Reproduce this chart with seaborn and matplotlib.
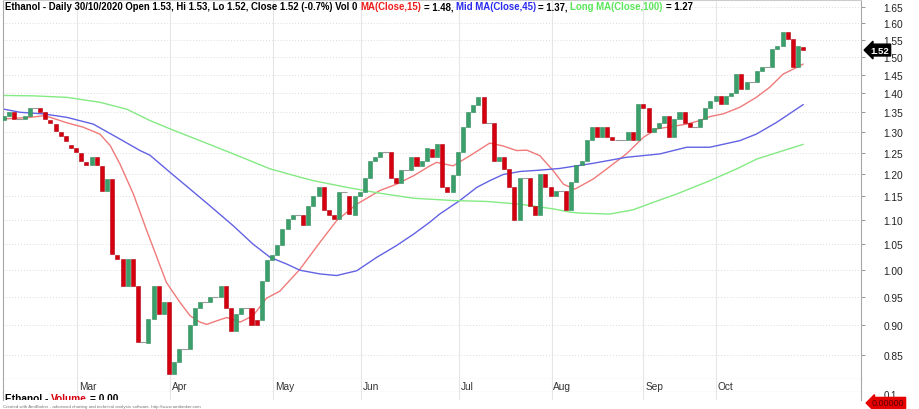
import matplotlib
matplotlib.use('Agg')
import matplotlib.pyplot as plt
import matplotlib.transforms as mtransforms
from matplotlib.ticker import NullLocator
import numpy as np
import pandas as pd
import seaborn as sns

# velas diarias (abertura / fechamento)
opens = [1.330, 1.340, 1.350, 1.333, 1.332, 1.341, 1.361, 1.361, 1.350, 1.330,
         1.320, 1.299, 1.290, 1.269, 1.260, 1.250, 1.229, 1.221, 1.240, 1.219,
         1.161, 1.189, 1.029, 1.020, 0.970, 1.020, 0.969, 0.871, 0.869, 0.910,
         0.970, 0.919, 0.941, 0.820, 0.839, 0.860, 0.860, 0.900, 0.929, 0.940,
         0.941, 0.950, 0.950, 0.970, 0.929, 0.890, 0.919, 0.929, 0.929, 0.909,
         0.909, 0.979, 1.019, 1.028, 1.048, 1.081, 1.101, 1.110, 1.110, 1.090,
         1.130, 1.150, 1.170, 1.121, 1.111, 1.101, 1.160, 1.150, 1.110, 1.150,
         1.160, 1.190, 1.230, 1.239, 1.251, 1.251, 1.190, 1.180, 1.210, 1.210,
         1.240, 1.219, 1.230, 1.259, 1.240, 1.271, 1.170, 1.160, 1.199, 1.251,
         1.312, 1.350, 1.370, 1.391, 1.322, 1.322, 1.231, 1.240, 1.212, 1.171,
         1.099, 1.190, 1.190, 1.130, 1.111, 1.200, 1.171, 1.151, 1.161, 1.161,
         1.120, 1.181, 1.221, 1.230, 1.280, 1.312, 1.288, 1.312, 1.288, 1.280,
         1.280, 1.280, 1.300, 1.280, 1.371, 1.361, 1.300, 1.310, 1.322, 1.341,
         1.288, 1.333, 1.351, 1.322, 1.312, 1.312, 1.333, 1.361, 1.380, 1.392,
         1.371, 1.392, 1.400, 1.452, 1.411, 1.431, 1.431, 1.461, 1.471, 1.471,
         1.523, 1.533, 1.572, 1.552, 1.471, 1.530]
closes = [1.341, 1.352, 1.332, 1.333, 1.340, 1.361, 1.361, 1.352, 1.332, 1.322,
          1.302, 1.290, 1.279, 1.261, 1.252, 1.231, 1.221, 1.240, 1.221, 1.161,
          1.189, 1.030, 1.021, 0.970, 1.020, 0.970, 0.871, 0.871, 0.910, 0.970,
          0.919, 0.941, 0.820, 0.839, 0.860, 0.860, 0.900, 0.929, 0.940, 0.940,
          0.949, 0.950, 0.970, 0.929, 0.890, 0.919, 0.929, 0.929, 0.900, 0.900,
          0.979, 1.019, 1.028, 1.048, 1.081, 1.101, 1.110, 1.110, 1.090, 1.130,
          1.150, 1.170, 1.121, 1.111, 1.101, 1.160, 1.160, 1.112, 1.150, 1.160,
          1.190, 1.230, 1.239, 1.251, 1.251, 1.190, 1.180, 1.210, 1.210, 1.240,
          1.219, 1.230, 1.260, 1.240, 1.271, 1.170, 1.160, 1.199, 1.251, 1.312,
          1.350, 1.370, 1.391, 1.322, 1.322, 1.231, 1.240, 1.212, 1.171, 1.099,
          1.190, 1.190, 1.130, 1.111, 1.200, 1.171, 1.151, 1.161, 1.161, 1.120,
          1.181, 1.221, 1.230, 1.280, 1.312, 1.288, 1.312, 1.288, 1.280, 1.280,
          1.280, 1.300, 1.280, 1.371, 1.361, 1.300, 1.310, 1.322, 1.341, 1.288,
          1.333, 1.351, 1.322, 1.312, 1.312, 1.333, 1.361, 1.380, 1.392, 1.371,
          1.392, 1.400, 1.452, 1.411, 1.431, 1.431, 1.461, 1.471, 1.471, 1.523,
          1.533, 1.572, 1.552, 1.471, 1.531, 1.520]

# medias moveis (posicao da vela, valor)
ma15_idx = [0, 5, 7.6, 9, 12, 15.4, 18.6, 20.6, 22.5, 25.1, 27.7, 31.5, 34.1, 36.1,
            38, 39.3, 41.2, 43.2, 45.8, 48.3, 50.9, 53.5, 57.4, 61.3, 64.5, 68.4,
            72.9, 76.1, 79.4, 82.6, 83.9, 87.1, 90.4, 94.2, 96.8, 99.4, 101.4,
            103.9, 106.5, 108.5, 110.7, 114.3, 116.9, 120.7, 124, 126.6, 129.1,
            132.4, 135, 136.9, 139.5, 142.7, 145.9, 148.5, 151.1, 153.1, 155]
ma15_val = [1.333, 1.337, 1.341, 1.337, 1.324, 1.312, 1.295, 1.267, 1.223, 1.155,
            1.077, 0.976, 0.940, 0.916, 0.905, 0.901, 0.907, 0.913, 0.905, 0.916,
            0.947, 0.960, 1.001, 1.054, 1.098, 1.133, 1.163, 1.177, 1.196, 1.219,
            1.227, 1.219, 1.243, 1.273, 1.266, 1.255, 1.256, 1.243, 1.208, 1.177,
            1.166, 1.189, 1.212, 1.247, 1.287, 1.308, 1.313, 1.320, 1.329, 1.339,
            1.346, 1.363, 1.389, 1.416, 1.452, 1.466, 1.48]
ma45_idx = [0, 3.1, 7.6, 12.2, 17.3, 21.9, 26.4, 28.3, 32.2, 36.1, 39.9, 44.5, 48.3,
            51.6, 54.8, 57.4, 61.3, 64.5, 68.4, 72.3, 76.1, 79.4, 82.6, 84.5, 88.4,
            91.7, 94.2, 96.8, 100.1, 103.9, 107.8, 114.3, 120.7, 127.2, 129.8,
            132.4, 136.9, 142.7, 145.9, 149.8, 155]
ma45_val = [1.358, 1.350, 1.346, 1.337, 1.320, 1.287, 1.255, 1.244, 1.204, 1.166,
            1.130, 1.087, 1.050, 1.024, 1.011, 0.999, 0.992, 0.989, 0.998, 1.024,
            1.047, 1.070, 1.095, 1.112, 1.141, 1.170, 1.185, 1.199, 1.206, 1.209,
            1.213, 1.225, 1.239, 1.247, 1.255, 1.263, 1.263, 1.279, 1.295, 1.324,
            1.37]
ma100_idx = [0, 5.6, 12.2, 18.6, 23.8, 28.3, 32.2, 38, 44.5, 51.6, 57.4, 60, 66.5,
             72.9, 79.4, 87.1, 93.6, 100.1, 106.5, 109.8, 111.7, 117.5, 122, 125.9,
             130.4, 136.9, 142.1, 146, 155]
ma100_val = [1.394, 1.393, 1.389, 1.376, 1.358, 1.329, 1.308, 1.279, 1.247, 1.212,
             1.193, 1.185, 1.170, 1.157, 1.146, 1.141, 1.139, 1.133, 1.123, 1.116,
             1.114, 1.112, 1.121, 1.137, 1.155, 1.185, 1.212, 1.235, 1.27]

months = ['Mar', 'Apr', 'May', 'Jun', 'Jul', 'Aug', 'Sep', 'Oct']
month_pos = [14.2, 32.2, 52.2, 69.2, 88.3, 106.2, 124.0, 138.1]
price_ticks = [0.85, 0.90, 0.95, 1.00, 1.05, 1.10, 1.15, 1.20, 1.25, 1.30,
               1.35, 1.40, 1.45, 1.50, 1.55, 1.60, 1.65]

verde = '#3b9f6b'
vermelho = '#d5000f'
cor_ma15 = '#f07a7a'
cor_ma45 = '#6262e4'
cor_ma100 = '#84ea84'

sns.set_theme(style='white')
plt.rcParams['font.family'] = ['Liberation Sans', 'DejaVu Sans']

W, H = 919, 410
fig = plt.figure(figsize=(W / 100, H / 100), dpi=100)


def caixa(x0, y0, x1, y1):
    return [x0 / W, 1 - y1 / H, (x1 - x0) / W, (y1 - y0) / H]


ax = fig.add_axes(caixa(3, 1, 861, 380))
ax_d = fig.add_axes(caixa(3, 380, 861, 393))
ax_v = fig.add_axes(caixa(3, 393, 861, 401))

df = pd.DataFrame({'open': opens, 'close': closes})
df['i'] = np.arange(len(df))
sobe = df[df.close > df.open]
desce = df[df.close < df.open]
doji = df[df.close == df.open]

ax.bar(sobe.i, sobe.close - sobe.open, bottom=sobe.open, width=0.78,
       color=verde, edgecolor='#2f8a5a', linewidth=0.4, zorder=3)
ax.bar(desce.i, desce.open - desce.close, bottom=desce.close, width=0.78,
       color=vermelho, edgecolor='#b0000c', linewidth=0.4, zorder=3)
ax.hlines(doji.close, doji.i - 0.6, doji.i + 0.6, color='#9a9a9a', lw=0.8, zorder=3)

sns.lineplot(x=ma15_idx, y=ma15_val, ax=ax, color=cor_ma15, lw=1.0, zorder=2)
sns.lineplot(x=ma45_idx, y=ma45_val, ax=ax, color=cor_ma45, lw=1.0, zorder=2)
sns.lineplot(x=ma100_idx, y=ma100_val, ax=ax, color=cor_ma100, lw=1.0, zorder=2)

ax.set_yscale('log')
ax.set_ylim(0.81197, 1.6722)
ax.set_xlim(-0.19, 166.2)
ax.yaxis.tick_right()
ax.set_yticks(price_ticks)
ax.set_yticklabels([f'{v:.2f}' for v in price_ticks])
ax.yaxis.set_minor_locator(NullLocator())
ax.set_xticks([])
ax.tick_params(axis='y', length=3, width=0.6, pad=13, labelsize=7.3,
               color='#888888', labelcolor='#222222', right=True)
ax.set_xlabel('')
ax.set_ylabel('')
ax.grid(axis='y', color='#dcdcdc', linestyle=(0, (1, 2)), lw=0.7)
for p in month_pos:
    for a in (ax, ax_d, ax_v):
        a.axvline(p, color='#e6e6e6', lw=0.8, zorder=0)

for a in (ax, ax_d, ax_v):
    for s in a.spines.values():
        s.set_color('#a8a8a8')
        s.set_linewidth(0.8)
    a.set_facecolor('white')
ax.spines['top'].set_color('#cccccc')

for a in (ax_d, ax_v):
    a.set_xlim(-0.19, 166.2)
    a.set_ylim(0, 1)
    a.set_xticks([])
    a.set_yticks([])
ax_d.spines['top'].set_visible(False)
ax_v.spines['top'].set_visible(False)
ax_v.spines['bottom'].set_visible(False)

for nome, p in zip(months, month_pos):
    ax_d.text(p + 0.35, 0.45, nome, ha='left', va='center', fontsize=7.3, color='#333333')

# marcador do ultimo preco
trans = mtransforms.blended_transform_factory(ax.transAxes, ax.transData)
ax.text(1.011, closes[-1], f'{closes[-1]:.2f}', transform=trans, ha='left', va='center',
        color='white', fontsize=6.8, fontweight='bold', clip_on=False,
        bbox=dict(boxstyle='larrow,pad=0.15', fc='black', ec='black'))

# titulo em varias cores
renderer = fig.canvas.get_renderer()
tam = 6.95


def largura(s):
    t = fig.text(0, 0, s, fontsize=tam, fontweight='bold')
    w = t.get_window_extent(renderer).width
    t.remove()
    return w


espaco = largura('x x') - largura('xx')
partes = [('Ethanol - Daily 30/10/2020 Open 1.53, Hi 1.53, Lo 1.52, Close 1.52 (-0.7%) Vol 0', 'black'),
          ('MA(Close,15)', '#f01c1c'), ('= 1.48,', 'black'),
          ('Mid MA(Close,45)', '#2a2af0'), ('= 1.37,', 'black'),
          ('Long MA(Close,100)', '#5ae65a'), ('= 1.27', 'black')]
x = 5
for s, c in partes:
    t = fig.text(x / W, 1 - 7 / H, s, color=c, fontsize=tam, fontweight='bold',
                 ha='left', va='center')
    x += t.get_window_extent(renderer).width + espaco

# painel de volume
x = 5
for s, c in [('Ethanol -', 'black'), ('Volume', vermelho), ('= 0.00', 'black')]:
    t = ax_v.text(x / W, 1 - 394 / H, s, color=c, fontsize=7.3, fontweight='bold',
                  ha='left', va='top', transform=fig.transFigure, clip_on=True)
    t.set_clip_box(ax_v.bbox)
    x += t.get_window_extent(renderer).width + espaco

fig.text(884 / W, 1 - 396 / H, '0.1', fontsize=7, color='#222222', ha='left', va='center')
fig.text(872 / W, 1 - 404 / H, '0.00000', fontsize=6.5, color='#5a0000', ha='left', va='center',
         bbox=dict(boxstyle='larrow,pad=0.12', fc='#e60000', ec='#e60000'))
fig.text(3 / W, 1 - 407 / H,
         'Created with AmiBroker - advanced charting and technical analysis software. http://www.amibroker.com',
         fontsize=3.2, color='#777777', ha='left', va='center')

fig.savefig('out.png', dpi=100)
